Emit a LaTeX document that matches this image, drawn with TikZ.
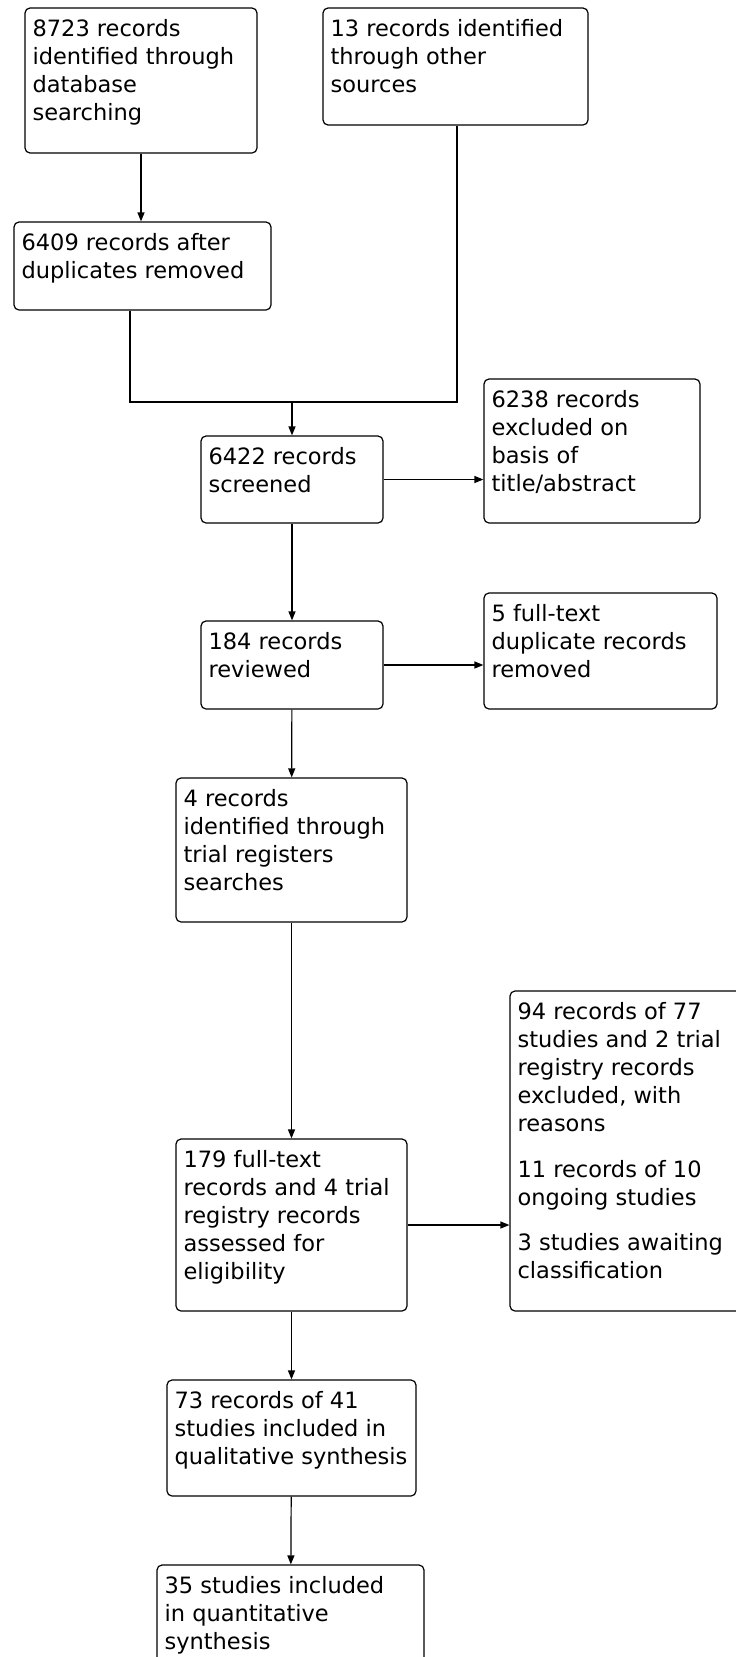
\documentclass[tikz,border=0pt]{standalone}
\usepackage{fontspec}
\newfontfamily\dejavu{DejaVu Sans}
\usepackage{tikz}
\usetikzlibrary{arrows.meta}

\begin{document}
\begin{tikzpicture}[x=1pt, y=-1pt,
  box/.style={draw, rounded corners=5pt, line width=1.2pt, inner sep=0pt},
  txt/.style={anchor=north west, align=left, inner sep=0pt, xshift=8pt, yshift=-12pt,
    font={\dejavu\fontsize{22.5pt}{28pt}\selectfont}},
  arr/.style={-{Triangle[length=9pt, width=7pt]}, line width=1.2pt},
  line/.style={line width=1.2pt}]
  \useasboundingbox (0,0) rectangle (736,1657);
  \clip (0,0) rectangle (736,1657);

  % Identification
  \node[box, minimum width=232, minimum height=145] (ident) at (141, 80.5) {};
  \node[txt] (ident-t) at (ident.north west) {8723 records\\identified through\\database\\searching};

  \node[box, minimum width=265, minimum height=117] (other) at (455.5, 66.5) {};
  \node[txt] (other-t) at (other.north west) {13 records identified\\through other\\sources};

  \node[box, minimum width=257, minimum height=88] (dedup) at (142.5, 266) {};
  \node[txt] (dedup-t) at (dedup.north west) {6409 records after\\duplicates removed};

  % Screening
  \node[box, minimum width=182, minimum height=87] (screen) at (292, 479.5) {};
  \node[txt] (screen-t) at (screen.north west) {6422 records\\screened};

  \node[box, minimum width=216, minimum height=144] (excl) at (592, 451) {};
  \node[txt] (excl-t) at (excl.north west) {6238 records\\excluded on\\basis of\\title/abstract};

  \node[box, minimum width=182, minimum height=88] (review) at (292, 665) {};
  \node[txt] (review-t) at (review.north west) {184 records\\reviewed};

  \node[box, minimum width=233, minimum height=116] (dupft) at (600.5, 651) {};
  \node[txt] (dupft-t) at (dupft.north west) {5 full-text\\duplicate records\\removed};

  % Eligibility
  \node[box, minimum width=231, minimum height=144] (trial) at (291.5, 850) {};
  \node[txt] (trial-t) at (trial.north west) {4 records\\identified through\\trial registers\\searches};

  \node[box, minimum width=231, minimum height=172] (assess) at (291.5, 1225) {};
  \node[txt] (assess-t) at (assess.north west) {179 full-text\\records and 4 trial\\registry records\\assessed for\\eligibility};

  \node[box, minimum width=250, minimum height=320] (exclr) at (635, 1151) {};
  \node[txt] (exclr-t) at (exclr.north west) {94 records of 77\\studies and 2 trial\\registry records\\excluded, with\\reasons\\[18pt]
    11 records of 10\\ongoing studies\\[17pt]
    3 studies awaiting\\classification};

  % Included
  \node[box, minimum width=249, minimum height=116] (qual) at (291.5, 1438) {};
  \node[txt] (qual-t) at (qual.north west) {73 records of 41\\studies included in\\qualitative synthesis};

  \node[box, minimum width=267, minimum height=135] (quant) at (290.5, 1632.5) {};
  \node[txt] (quant-t) at (quant.north west) {35 studies included\\in quantitative\\synthesis};

  % Connectors
  \coordinate (mleft) at (130, 402);
  \coordinate (mright) at (457, 402);
  \coordinate (mid) at (292, 402);

  \draw[arr] (ident.south) -- (ident.south |- dedup.north);
  \draw[line] (dedup.south -| mleft) -- (mleft) -- (mright) -- (other.south -| mright);
  \draw[arr] (mid) -- (screen.north);
  \draw[arr] (screen.east) -- (screen.east -| excl.west);
  \draw[arr] (screen) -- (review);
  \draw[arr] (review.east) -- (review.east -| dupft.west);
  \draw[arr] (review) -- (trial);
  \draw[arr] (trial) -- (assess);
  \draw[arr] (assess.east) -- (assess.east -| exclr.west);
  \draw[arr] (assess) -- (qual);
  \draw[arr] (qual) -- (quant);
\end{tikzpicture}
\end{document}
